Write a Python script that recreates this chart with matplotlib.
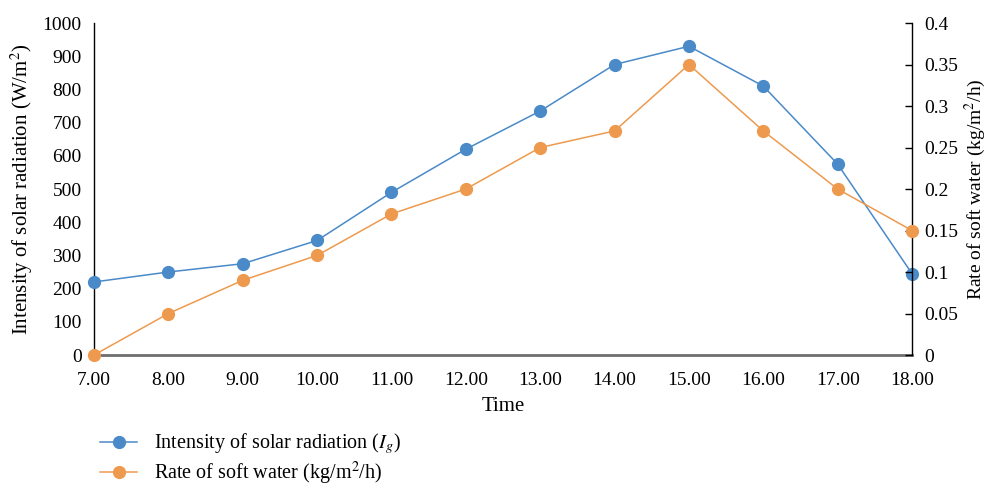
import matplotlib
matplotlib.use("Agg")
import matplotlib.pyplot as plt
from matplotlib.ticker import FixedLocator

plt.rcParams['font.family'] = ['Liberation Serif', 'DejaVu Serif']
plt.rcParams['mathtext.fontset'] = 'stix'

time = [7, 8, 9, 10, 11, 12, 13, 14, 15, 16, 17, 18]
time_labels = ["7.00", "8.00", "9.00", "10.00", "11.00", "12.00", "13.00",
               "14.00", "15.00", "16.00", "17.00", "18.00"]
radiation = [220, 250, 275, 345, 490, 620, 735, 875, 930, 810, 575, 245]
soft_water = [0.0, 0.05, 0.09, 0.12, 0.17, 0.20, 0.25, 0.27, 0.35, 0.27, 0.20, 0.15]
left_ticks = [0, 100, 200, 300, 400, 500, 600, 700, 800, 900, 1000]
right_ticks = [0, 0.05, 0.1, 0.15, 0.2, 0.25, 0.3, 0.35, 0.4]
right_labels = ["0", "0.05", "0.1", "0.15", "0.2", "0.25", "0.3", "0.35", "0.4"]

blue = "#4a8ac8"
orange = "#ee9a4e"

fig = plt.figure(figsize=(9.91, 4.90), dpi=100)
ax = fig.add_axes([0.0949, 0.2755, 0.8254, 0.6775])
ax2 = ax.twinx()

l1, = ax.plot(time, radiation, color=blue, lw=1.1, marker='o', ms=8.5,
              clip_on=False, zorder=3,
              label=r"Intensity of solar radiation ($I_g$)")
l2, = ax2.plot(time, soft_water, color=orange, lw=1.1, marker='o', ms=8.5,
               clip_on=False, zorder=3,
               label=r"Rate of soft water (kg/m$^2$/h)")

ax.set_xlim(7, 18)
ax.set_ylim(0, 1000)
ax2.set_ylim(0, 0.4)
ax.set_xticks(time)
ax.set_xticklabels(time_labels)
ax.set_yticks(left_ticks)
ax2.yaxis.set_major_locator(FixedLocator(right_ticks))
ax2.set_yticklabels(right_labels)

for a in (ax, ax2):
    a.spines['top'].set_visible(False)
ax.spines['right'].set_visible(False)
ax2.spines['left'].set_visible(False)
ax2.spines['bottom'].set_visible(False)
ax.spines['left'].set_color('black')
ax.spines['left'].set_linewidth(1.0)
ax.spines['bottom'].set_color('#6e6e6e')
ax.spines['bottom'].set_linewidth(2.0)
ax2.spines['right'].set_color('black')
ax2.spines['right'].set_linewidth(1.0)

ax.tick_params(axis='y', length=0, labelsize=14, pad=9)
ax.tick_params(axis='x', length=0, labelsize=14, pad=12)
ax2.tick_params(axis='y', direction='in', length=5, width=1.0, labelsize=14, pad=9)

ax.set_xlabel("Time", fontsize=15, labelpad=6)
ax.set_ylabel(r"Intensity of solar radiation (W/m$^2$)", fontsize=15, labelpad=5)
ax2.set_ylabel(r"Rate of soft water (kg/m$^2$/h)", fontsize=14, labelpad=3)

fig.legend(handles=[l1, l2], loc='upper left', bbox_to_anchor=(0.093, 0.136),
           frameon=False, fontsize=14.5, handlelength=1.85, handletextpad=0.8,
           labelspacing=0.2, borderaxespad=0)

fig.savefig("out.png", dpi=100)
